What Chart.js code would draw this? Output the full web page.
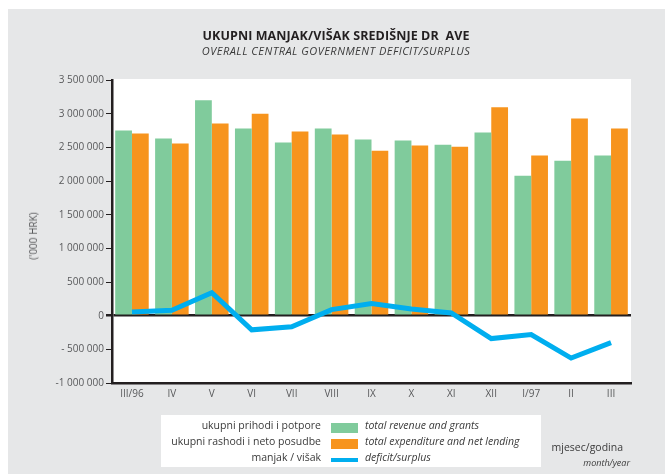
<!DOCTYPE html>
<html>
<head>
<meta charset="utf-8">
<script src="https://cdn.jsdelivr.net/npm/chart.js@4/dist/chart.umd.min.js"></script>
<style>
body{margin:0;background:#fff;font-family:"Open Sans",sans-serif;color:#231f20}
#wrap{position:relative;width:665px;height:474px}
#c{position:absolute;left:0;top:0}
.t{position:absolute;white-space:nowrap}
#title{left:0;width:672px;top:27px;text-align:center;font-weight:bold;font-size:12.5px;letter-spacing:0.1px}
#sub{left:0;width:672px;top:43px;text-align:center;font-style:italic;font-size:11px;letter-spacing:0.5px;color:#3a3a3a}
#ytitle{left:33px;top:236px;font-size:10px;color:#58595b;transform:translate(-50%,-50%) rotate(-90deg)}
#legend{position:absolute;left:161px;top:415px;width:380px;height:52px;background:#fff}
.hr{position:absolute;right:220px;font-size:10.5px;color:#3a3a3a}
.en{position:absolute;left:204px;font-size:10.5px;font-style:italic;color:#3a3a3a}
.sw{position:absolute;left:170px;width:27px;height:10px}
#mj{right:42px;top:440px;font-size:10.5px;color:#3a3a3a}
#my{right:35px;top:456px;font-size:9px;font-style:italic;color:#3a3a3a}
</style>
</head>
<body>
<div id="wrap">
<canvas id="c" width="665" height="474"></canvas>
<div class="t" id="title">UKUPNI MANJAK/VIŠAK SREDIŠNJE DR&nbsp;&nbsp;AVE</div>
<div class="t" id="sub">OVERALL CENTRAL GOVERNMENT DEFICIT/SURPLUS</div>
<div class="t" id="ytitle">('000 HRK)</div>
<div id="legend"></div>
<div class="t" id="mj">mjesec/godina</div>
<div class="t" id="my">month/year</div>
</div>
<script>
let months = ["III/96","IV","V","VI","VII","VIII","IX","X","XI","XII","I/97","II","III"]
let revenue = [2750000,2630000,3200000,2780000,2570000,2780000,2615000,2600000,2540000,2720000,2078000,2300000,2377000]
let expenditure = [2705000,2556000,2855000,3000000,2735000,2690000,2450000,2526000,2510000,3094000,2377000,2930000,2780000]
let deficit = [55000,80000,340000,-210000,-165000,90000,180000,100000,40000,-340000,-280000,-630000,-400000]
let yTicks = [-1000000,-500000,0,500000,1000000,1500000,2000000,2500000,3000000,3500000]
let yTickLabels = ["-1 000 000","- 500 000","0","500 000","1 000 000","1 500 000","2 000 000","2 500 000","3 000 000","3 500 000"]

let legendHr = ["ukupni prihodi i potpore","ukupni rashodi i neto posudbe","manjak / višak"]
let legendEn = ["total revenue and grants","total expenditure and net lending","deficit/surplus"]

const green = "#80cb9c"
const orange = "#f7941d"
const blue = "#00aeef"
const ink = "#231f20"

// legend built from the arrays
let legend = document.getElementById("legend")
let swColors = [green, orange, blue]
for(let i=0;i<3;i++){
  let top = 3 + i*16
  let hr = document.createElement("div")
  hr.className = "hr"; hr.style.top = top+"px"; hr.innerText = legendHr[i]
  let en = document.createElement("div")
  en.className = "en"; en.style.top = top+"px"; en.innerText = legendEn[i]
  let sw = document.createElement("div")
  sw.className = "sw"; sw.style.background = swColors[i]
  if(i==2){ sw.style.height = "4px"; sw.style.top = (top+8)+"px" } else { sw.style.top = (top+5)+"px" }
  legend.appendChild(hr); legend.appendChild(en); legend.appendChild(sw)
}

const bgPlugin = {
  id:"bg",
  beforeDraw(chart){
    let ctx = chart.ctx
    let a = chart.chartArea
    ctx.save()
    ctx.fillStyle = "#fff"
    ctx.fillRect(0,0,665,474)
    ctx.fillStyle = "#e6e7e8"
    ctx.fillRect(8,9,657,465)
    ctx.fillStyle = "#fff"
    ctx.fillRect(a.left, a.top-1, a.right-a.left, a.bottom-a.top+1)
    ctx.restore()
  }
}

new Chart(document.getElementById("c"),{
  type:"bar",
  data:{
    labels:months,
    datasets:[
      {type:"line",data:deficit,borderColor:blue,borderWidth:5,pointRadius:0,tension:0,order:0,borderJoinStyle:"miter",borderCapStyle:"butt"},
      {data:revenue,backgroundColor:green,order:1,categoryPercentage:0.84,barPercentage:1},
      {data:expenditure,backgroundColor:orange,order:2,categoryPercentage:0.84,barPercentage:1}
    ]
  },
  plugins:[bgPlugin],
  options:{
    responsive:false,
    animation:false,
    layout:{padding:{left:0,right:34,top:80,bottom:0}},
    plugins:{legend:{display:false},tooltip:{enabled:false},title:{display:false}},
    scales:{
      x:{
        grid:{display:true,drawOnChartArea:false,drawTicks:false,color:"transparent"},
        border:{display:true,color:ink,width:2.5},
        ticks:{color:"#58595b",font:{family:"Open Sans",size:10},padding:5,maxRotation:0,autoSkip:false},
        afterFit(s){ s.height = 91 }
      },
      y:{
        min:-1000000,max:3500000,
        afterBuildTicks(s){ s.ticks = yTicks.map(v=>({value:v})) },
        grid:{
          drawTicks:true,tickLength:6,tickColor:ink,
          color:c=>c.tick && c.tick.value===0 ? ink : "transparent",
          lineWidth:c=>c.tick && c.tick.value===0 ? 2.5 : 1
        },
        border:{display:true,color:ink,width:2.5},
        ticks:{
          color:"#58595b",font:{family:"Open Sans",size:10},padding:2,
          callback:(v,i)=>yTickLabels[yTicks.indexOf(v)]
        },
        afterFit(s){ s.width = 112 }
      }
    }
  }
})
</script>
</body>
</html>
